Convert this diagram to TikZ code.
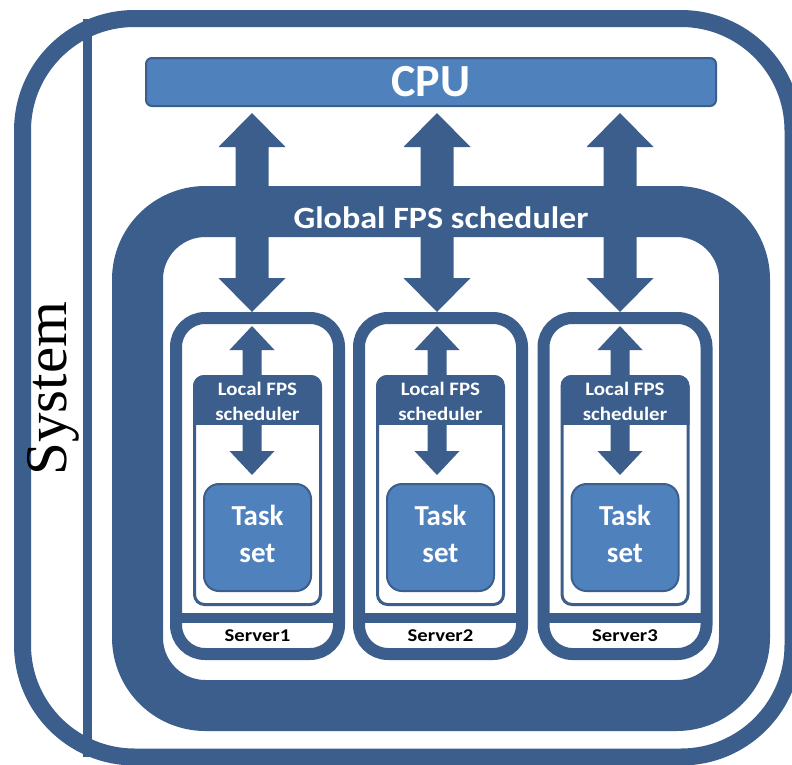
\documentclass[tikz,border=0pt]{standalone}
\usepackage{fontspec}
\usetikzlibrary{calc}
\newfontfamily\calfont{Carlito}
\newfontfamily\serifface{Liberation Serif}
\definecolor{navy}{HTML}{3B5E8C}
\definecolor{steel}{HTML}{4F81BD}
% horizontally widened text
\newcommand{\wider}[2]{\scalebox{#1}[1]{#2}}
% vertical double-headed block arrow between two named points
% #1 top tip, #2 bottom tip, #3 shaft half width, #4 head half width, #5 head length
\newcommand{\fatarrow}[5]{%
  \fill[navy] (#1) -- ($(#1)+(#4,#5)$) -- ($(#1)+(#3,#5)$) -- ($(#2)+(#3,-#5)$)
    -- ($(#2)+(#4,-#5)$) -- (#2) -- ($(#2)+(-#4,-#5)$) -- ($(#2)+(-#3,-#5)$)
    -- ($(#1)+(-#3,#5)$) -- ($(#1)+(-#4,#5)$) -- cycle;}
\tikzset{
  cpubar/.style={draw=navy, line width=2pt, fill=steel, rounded corners=6pt,
    minimum width=570pt, minimum height=48pt, inner sep=0pt, text=white,
    font=\calfont\bfseries\fontsize{46}{50}\selectfont},
  srvbox/.style={draw=navy, line width=12pt, fill=white, rounded corners=29pt,
    minimum width=163pt, minimum height=336pt, inner sep=0pt},
  taskbox/.style={draw=navy, line width=2pt, fill=steel, rounded corners=15pt,
    minimum width=107pt, minimum height=107pt, inner sep=0pt},
  whitetxt/.style={text=white, inner sep=0pt, anchor=base},
  blacktxt/.style={text=black, inner sep=0pt, anchor=base},
}
\begin{document}
\begin{tikzpicture}[x=1pt, y=-1pt]
\useasboundingbox (0,0) rectangle (792,764);
\clip (0,0) rectangle (792,764);

% system frame and its side divider
\draw[navy, line width=17pt, rounded corners=112pt] (22.5,18.5) rectangle (793,757);
\coordinate (divtop) at (87.5,18.5);
\coordinate (divbot) at (87.5,757);
\draw[navy, line width=9pt] (divtop) -- (divbot);
\node[rotate=90, anchor=base, inner sep=0pt,
      font=\serifface\fontsize{59}{62}\selectfont] (system) at (66,388.5) {System};

% CPU
\node[cpubar] (cpu) at (431,82) {CPU};

% global scheduler ring
\draw[navy, line width=51pt, rounded corners=68pt] (137.5,211.5) rectangle (744.5,705.5);

% servers
\foreach \i/\cx/\ax in {1/257.5/252, 2/440.5/437, 3/625/620}{
  \node[srvbox] (srv\i) at (\cx,486) {};
  \fill[navy] ({\cx-82},613) rectangle ({\cx+82},623);
  \node[blacktxt, font=\calfont\bfseries\fontsize{18}{20}\selectfont] (srvlabel\i) at (\cx,641)
    {\wider{1.15}{Server\i}};
  % local scheduler box with its dark header
  \begin{scope}
    \clip[rounded corners=11pt] ({\cx-64.5},375) rectangle ({\cx+64.5},606);
    \fill[navy] ({\cx-64.5},375) rectangle ({\cx+64.5},425);
  \end{scope}
  \draw[navy, line width=3pt, rounded corners=10pt] ({\cx-63},376.5) rectangle ({\cx+63},604.5);
  % task set
  \node[taskbox] (task\i) at (\cx,537.5) {};
  % arrows: CPU <-> server, local scheduler <-> task set
  \coordinate (gt\i) at (\ax,113);
  \coordinate (gb\i) at (\ax,312);
  \fatarrow{gt\i}{gb\i}{16.5}{33.5}{34}
  \coordinate (lt\i) at (\ax,326);
  \coordinate (lb\i) at (\ax,475);
  \fatarrow{lt\i}{lb\i}{9.5}{22.5}{24}
  % labels on top of the arrows
  \node[whitetxt, font=\calfont\bfseries\fontsize{19}{21}\selectfont] (loca\i) at (\cx,395)
    {\wider{1.1}{Local FPS}};
  \node[whitetxt, font=\calfont\bfseries\fontsize{19}{21}\selectfont] (locb\i) at (\cx,420)
    {\wider{1.1}{scheduler}};
  \node[whitetxt, font=\calfont\bfseries\fontsize{29}{32}\selectfont] (taska\i) at (\cx,525) {Task};
  \node[whitetxt, font=\calfont\bfseries\fontsize{29}{32}\selectfont] (taskb\i) at (\cx,562) {set};
}

\node[whitetxt, font=\calfont\bfseries\fontsize{31}{34}\selectfont] (global) at (441,228)
  {\wider{1.1}{Global FPS scheduler}};
\end{tikzpicture}
\end{document}
